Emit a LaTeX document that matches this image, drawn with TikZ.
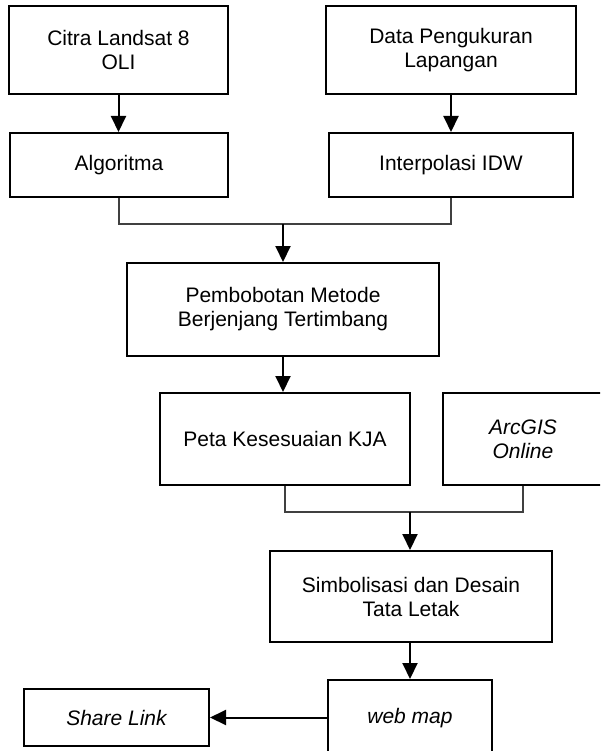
\documentclass[tikz,border=0pt]{standalone}
\usepackage{fontspec}
\setmainfont{Liberation Sans}
\usetikzlibrary{arrows.meta}

\tikzset{
	box/.style={draw, line width=2pt, align=center, inner sep=0pt,
		font=\fontsize{21pt}{24pt}\selectfont},
	arr/.style={line width=2pt, -{Triangle[width=15pt,length=16pt]}},
	joint/.style={line width=1.2pt, draw=black!75}
}

\begin{document}
\begin{tikzpicture}[x=1pt,y=-1pt]

	\useasboundingbox (0,0) rectangle (600,751);
	\clip (0,0) rectangle (600,751);

	\node[box, minimum width=219pt, minimum height=88pt] (citra) at (118.5,50) {Citra Landsat 8\\OLI};
	\node[box, minimum width=250pt, minimum height=88pt] (data) at (451,50) {Data Pengukuran\\Lapangan};
	\node[box, minimum width=218pt, minimum height=64pt] (algo) at (119,165) {Algoritma};
	\node[box, minimum width=244pt, minimum height=64pt] (idw) at (451,165) {Interpolasi IDW};
	\node[box, minimum width=312pt, minimum height=93pt] (bobot) at (283,309.5) {Pembobotan Metode\\Berjenjang Tertimbang};
	\node[box, minimum width=250pt, minimum height=92pt] (peta) at (285,439) {Peta Kesesuaian KJA};
	\node[box, minimum width=160pt, minimum height=92pt] (arcgis) at (523,439) {\itshape ArcGIS\\\itshape Online};
	\node[box, minimum width=282pt, minimum height=91pt] (simbol) at (411,596.5) {Simbolisasi dan Desain\\Tata Letak};
	\node[box, minimum width=164pt, minimum height=76pt] (web) at (410,718) {\itshape web map};
	\node[box, minimum width=185pt, minimum height=57pt] (share) at (116.5,717.5) {\itshape Share Link};

	\coordinate (j1) at (283,224);
	\coordinate (j2) at (410,512);

	\draw[arr] (citra.south) -- (citra.south |- algo.north);
	\draw[arr] (data.south) -- (data.south |- idw.north);
	\draw[joint] (algo.south) |- (j1) -| (idw.south);
	\draw[arr] (j1) -- (bobot.north);
	\draw[arr] (bobot.south) -- (bobot.south |- peta.north);
	\draw[joint] (peta.south) |- (j2) -| (arcgis.south);
	\draw[arr] (j2) -- (j2 |- simbol.north);
	\draw[arr] (simbol.south -| web.north) -- (web.north);
	\draw[arr] (web.west |- share.east) -- (share.east);

\end{tikzpicture}
\end{document}
